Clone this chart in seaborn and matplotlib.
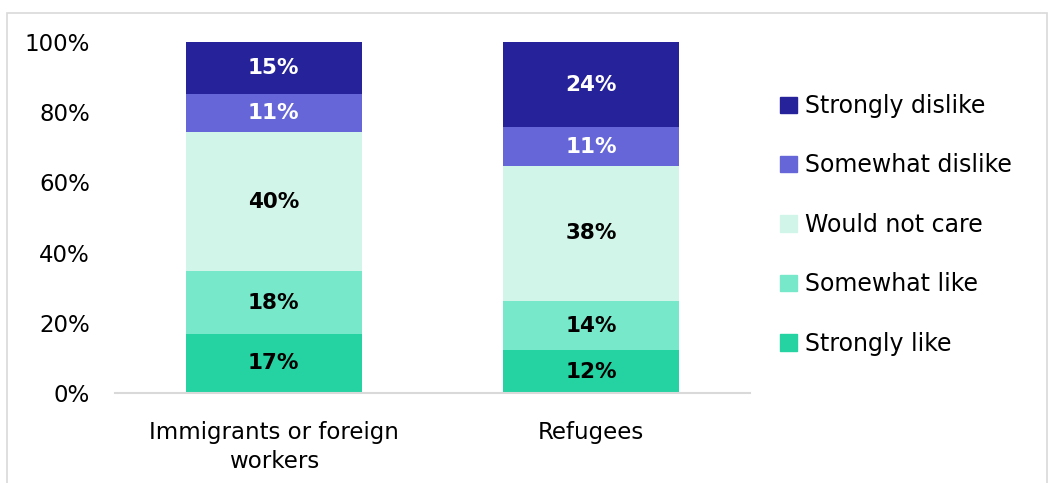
import numpy as np
import pandas as pd
import matplotlib
matplotlib.use("Agg")
import matplotlib.pyplot as plt
import matplotlib.patches as mpatches
import seaborn as sns

# Data
groups = ["Immigrants or foreign\nworkers", "Refugees"]
levels = ["Strongly like", "Somewhat like", "Would not care", "Somewhat dislike", "Strongly dislike"]
strongly_like = [17, 12]
somewhat_like = [18, 14]
would_not_care = [40, 38]
somewhat_dislike = [11, 11]
strongly_dislike = [15, 24]

colors = ["#24D2A2", "#77E8C9", "#D2F5EA", "#6666D9", "#26239A"]
label_colors = ["black", "black", "black", "white", "white"]

sns.set_style("white")
plt.rcParams["font.family"] = ["DejaVu Sans"]
plt.rcParams["text.color"] = "black"
plt.rcParams["xtick.color"] = "black"
plt.rcParams["ytick.color"] = "black"

vals = np.array([strongly_like, somewhat_like, would_not_care, somewhat_dislike, strongly_dislike], dtype=float)
shares = vals / vals.sum(axis=0)  # 100% stacked
tops = np.cumsum(shares, axis=0)

fig = plt.figure(figsize=(10.5, 4.83), dpi=100)
ax = fig.add_axes([0.1095, 0.1863, 0.6048, 0.7267])

# draw from the top layer down so each bar hides the one beneath
for i in range(len(levels) - 1, -1, -1):
    df = pd.DataFrame({"group": groups, "top": tops[i]})
    sns.barplot(data=df, x="group", y="top", color=colors[i], width=0.555,
                saturation=1, linewidth=0, ax=ax, label=levels[i])

for i in range(len(levels)):
    for j in range(len(groups)):
        mid = tops[i, j] - shares[i, j] / 2
        ax.text(j, mid, f"{int(vals[i, j])}%", ha="center", va="center",
                fontsize=15.5, fontweight="bold", color=label_colors[i])

ax.set_ylim(0, 1)
ax.set_xlim(-0.5, 1.5)
ax.set_yticks(np.arange(0, 1.01, 0.2))
ax.set_yticklabels([f"{int(t * 100)}%" for t in np.arange(0, 1.01, 0.2)], fontsize=16.5)
ax.set_xticks(range(len(groups)))
ax.set_xticklabels(groups, fontsize=16.5, linespacing=1.35)
ax.tick_params(axis="x", length=0, pad=20)
ax.tick_params(axis="y", length=0, pad=18)
ax.set_xlabel("")
ax.set_ylabel("")
for s in ["top", "right", "left"]:
    ax.spines[s].set_visible(False)
ax.spines["bottom"].set_color("#D9D9D9")
ax.spines["bottom"].set_linewidth(1.5)

handles = [mpatches.Patch(color=colors[i], label=levels[i]) for i in range(len(levels) - 1, -1, -1)]
ax.legend(handles=handles, loc="center left", bbox_to_anchor=(1.014, 0.479), frameon=False,
          fontsize=17, handlelength=0.7, handleheight=0.7, handletextpad=0.35,
          labelspacing=1.5)

fig.patches.append(mpatches.Rectangle((0.0067, -0.01), 0.99, 0.983, transform=fig.transFigure,
                                      fill=False, edgecolor="#D9D9D9", linewidth=1.2))

fig.savefig("out.png", dpi=100)
